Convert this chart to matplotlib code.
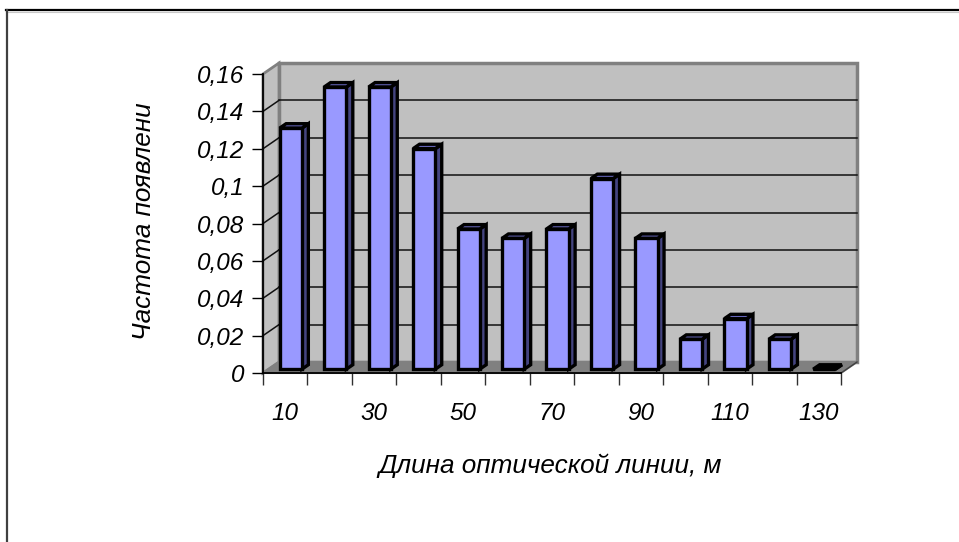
import matplotlib
matplotlib.use("Agg")
import matplotlib.pyplot as plt
from matplotlib.patches import Polygon
from matplotlib.lines import Line2D

# data: frequency of optical line lengths
lengths = [10, 20, 30, 40, 50, 60, 70, 80, 90, 100, 110, 120, 130]
freq = [0.129, 0.151, 0.151, 0.118, 0.075, 0.070, 0.075, 0.102, 0.070, 0.016, 0.027, 0.016, 0.0]
yticks = [0, 0.02, 0.04, 0.06, 0.08, 0.10, 0.12, 0.14, 0.16]
ylabels = ["0", "0,02", "0,04", "0,06", "0,08", "0,1", "0,12", "0,14", "0,16"]
xlabels = [str(v) if i % 2 == 0 else "" for i, v in enumerate(lengths)]

plt.rcParams['font.family'] = ['Liberation Sans', 'DejaVu Sans']
W, H = 959, 542
fig = plt.figure(figsize=(W / 100, H / 100), dpi=100)

# front plane of the 3d box, in pixels
x_left, x_right, y_zero, y_top = 263, 841, 373, 74
ax = fig.add_axes([x_left / W, 1 - y_zero / H, (x_right - x_left) / W, (y_zero - y_top) / H])
ax.set_facecolor("none")
n = len(lengths)
ymax = 0.16
ax.set_xlim(0, n)
ax.set_ylim(0, ymax)

# depth of the box, converted from pixels to data units
px_x = (x_right - x_left) / n
px_y = (y_zero - y_top) / ymax
DX, DY = 16 / px_x, 11 / px_y

wall = "#C0C0C0"
edge = "#808080"
back = Polygon([(DX, DY), (n + DX, DY), (n + DX, ymax + DY), (DX, ymax + DY)],
               fc=wall, ec=edge, lw=2.5, clip_on=False, zorder=0.5)
left = Polygon([(0, 0), (DX, DY), (DX, ymax + DY), (0, ymax)],
               fc=wall, ec=edge, lw=2, clip_on=False, zorder=0.5)
floor = Polygon([(0, 0), (n, 0), (n + DX, DY), (DX, DY)],
                fc=edge, ec=edge, lw=1.5, clip_on=False, zorder=0.6)
for p in (back, left, floor):
    ax.add_patch(p)

for v in yticks[1:-1]:
    ax.plot([DX, n + DX], [v + DY, v + DY], color="#101010", lw=1.1, clip_on=False, zorder=0.7)
    ax.plot([0, DX], [v, v + DY], color="#101010", lw=1.1, clip_on=False, zorder=0.7)
ax.plot([n, n + DX], [0, DY], color="#404040", lw=1, clip_on=False, zorder=0.7)

# bars: front face with ax.bar, side and top as polygons
f1, f2, w = 0.35, 0.4, 0.5
centers = [i + 0.5 + f1 * DX for i in range(n)]
y0 = f1 * DY
ax.bar(centers, freq, w, bottom=y0, color="#9999FF", edgecolor="black", lw=2.4, zorder=3)
for c, v in zip(centers, freq):
    xl, xr = c - w / 2, c + w / 2
    side = Polygon([(xr, y0), (xr + f2 * DX, y0 + f2 * DY), (xr + f2 * DX, y0 + v + f2 * DY), (xr, y0 + v)],
                   fc="#444480", ec="black", lw=2.4, clip_on=False, zorder=2.9)
    top = Polygon([(xl, y0 + v), (xr, y0 + v), (xr + f2 * DX, y0 + v + f2 * DY), (xl + f2 * DX, y0 + v + f2 * DY)],
                  fc="#6666BB" if v > 0 else "black", ec="black", lw=2.4, clip_on=False, zorder=2.9)
    ax.add_patch(side)
    ax.add_patch(top)

for s in ("top", "right"):
    ax.spines[s].set_visible(False)
for s in ("left", "bottom"):
    ax.spines[s].set_color("black")
    ax.spines[s].set_linewidth(1.3)
    ax.spines[s].set_zorder(2.5)

ax.set_yticks(yticks)
ax.set_yticklabels(ylabels, fontsize=17.5, fontstyle="italic")
ax.tick_params(axis="y", direction="out", length=8, width=1, pad=5.5)
ax.set_xticks(range(n + 1))
ax.set_xticklabels([])
ax.tick_params(axis="x", which="major", direction="out", length=8.5, width=1, color="#303030")
ax.set_xticks([i + 0.5 for i in range(n)], minor=True)
ax.set_xticklabels(xlabels, minor=True, fontsize=17.5, fontstyle="italic")
ax.tick_params(axis="x", which="minor", length=0, pad=21)

fig.text(144 / W, 1 - 221 / H, "Частота появлени", rotation=90, fontsize=18.8, fontstyle="italic",
         ha="center", va="center")
fig.text(550 / W, 1 - 466 / H, "Длина оптической линии, м", fontsize=18.8, fontstyle="italic",
         ha="center", va="center")

# outer chart frame (cut off at right and bottom)
fig.add_artist(Line2D([6 / W, 1], [1 - 9.5 / H] * 2, color="black", lw=1.6))
fig.add_artist(Line2D([6 / W, 1], [1 - 11.5 / H] * 2, color="#C8C8C8", lw=0.8))
fig.add_artist(Line2D([7 / W] * 2, [0, 1 - 9.5 / H], color="#404040", lw=1.6))

fig.savefig("out.png", dpi=100)
